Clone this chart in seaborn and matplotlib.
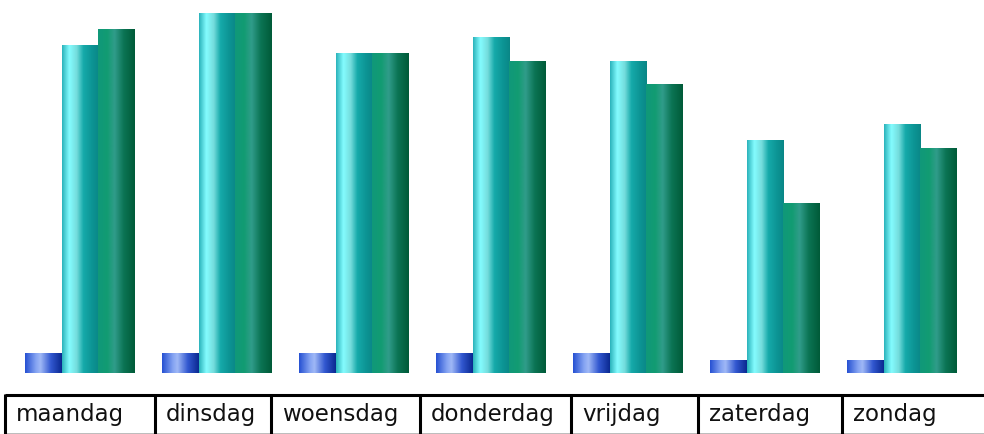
#!/usr/bin/env python3
"""
Weekly bar chart: three series per day, cylinder-style shaded bars,
with the day names in a boxed row underneath.
"""

import numpy as np
import pandas as pd
import matplotlib
matplotlib.use('Agg')
import matplotlib.pyplot as plt
from matplotlib.colors import LinearSegmentedColormap
import seaborn as sns

# ---------------------------------------------------------------------------
# Data
# ---------------------------------------------------------------------------
DAYS = ['maandag', 'dinsdag', 'woensdag', 'donderdag', 'vrijdag', 'zaterdag', 'zondag']
SERIES = ['reeks 1', 'reeks 2', 'reeks 3']
SERIES_1 = [20, 20, 20, 20, 20, 13, 13]
SERIES_2 = [328, 360, 320, 336, 312, 233, 249]
SERIES_3 = [344, 360, 320, 312, 289, 170, 225]

# cell borders of the label row (pixels)
CELL_EDGES = [5, 155, 271, 420, 571, 698, 842]

# ---------------------------------------------------------------------------
# Style
# ---------------------------------------------------------------------------
BASE_COLORS = ['#3a62d8', '#20b8c0', '#0e8a66']
GRADIENTS = [
    [(0.0, '#2550d2'), (0.3, '#86a4f2'), (0.42, '#9fb8f6'),
     (0.7, '#3258d0'), (1.0, '#0a2890')],
    [(0.0, '#2ab2ba'), (0.2, '#84fcff'), (0.4, '#74dcdc'),
     (0.58, '#16aaaa'), (0.82, '#0c9494'), (1.0, '#0a8686')],
    [(0.0, '#10987a'), (0.25, '#129c72'), (0.45, '#309c8a'),
     (0.7, '#0b7454'), (1.0, '#005a38')],
]


def main():
    df = pd.DataFrame({
        'dag': DAYS * 3,
        'reeks': np.repeat(SERIES, len(DAYS)),
        'waarde': SERIES_1 + SERIES_2 + SERIES_3,
    })

    W, H = 984, 434
    fig = plt.figure(figsize=(W / 100, H / 100), dpi=100)
    fig.patch.set_facecolor('white')

    # bar area
    ax = fig.add_axes([11.5 / W, 61 / H, 959 / W, 373 / H])
    sns.barplot(data=df, x='dag', y='waarde', hue='reeks',
                order=DAYS, hue_order=SERIES, palette=BASE_COLORS,
                width=0.81, legend=False, ax=ax, linewidth=0,
                saturation=1)
    ax.set_xlim(-0.5, len(DAYS) - 0.5)
    ax.set_ylim(0, 373)
    ax.set_axis_off()

    # shade each bar with a horizontal gradient clipped to its rectangle
    for container, stops in zip(ax.containers, GRADIENTS):
        cmap = LinearSegmentedColormap.from_list('g', stops)
        grad = np.linspace(0, 1, 256).reshape(1, -1)
        for bar in container.patches:
            x0, y0 = bar.get_x(), bar.get_y()
            x1, y1 = x0 + bar.get_width(), y0 + bar.get_height()
            im = ax.imshow(grad, cmap=cmap, aspect='auto',
                           extent=[x0, x1, y0, y1], origin='lower',
                           zorder=bar.get_zorder() + 0.1,
                           interpolation='bilinear')
            im.set_clip_path(bar)
    ax.set_xlim(-0.5, len(DAYS) - 0.5)
    ax.set_ylim(0, 373)

    # label row
    tax = fig.add_axes([0, 0, 1, 1])
    tax.set_xlim(0, W)
    tax.set_ylim(H, 0)
    tax.set_axis_off()
    tax.plot([CELL_EDGES[0], W], [395, 395], color='black', lw=2.2,
             solid_capstyle='butt')
    tax.plot([CELL_EDGES[0], W], [433.5, 433.5], color='#b0b0b0', lw=1.2)
    for x in CELL_EDGES:
        tax.plot([x, x], [394, 434], color='black', lw=2.2,
                 solid_capstyle='butt')
    for x, day in zip(CELL_EDGES, DAYS):
        tax.text(x + 11, 414, day, fontsize=16.5, ha='left', va='center',
                 color='#111111', family='DejaVu Sans')

    fig.savefig('out.png', dpi=100, facecolor='white')
    plt.close(fig)


if __name__ == '__main__':
    main()
